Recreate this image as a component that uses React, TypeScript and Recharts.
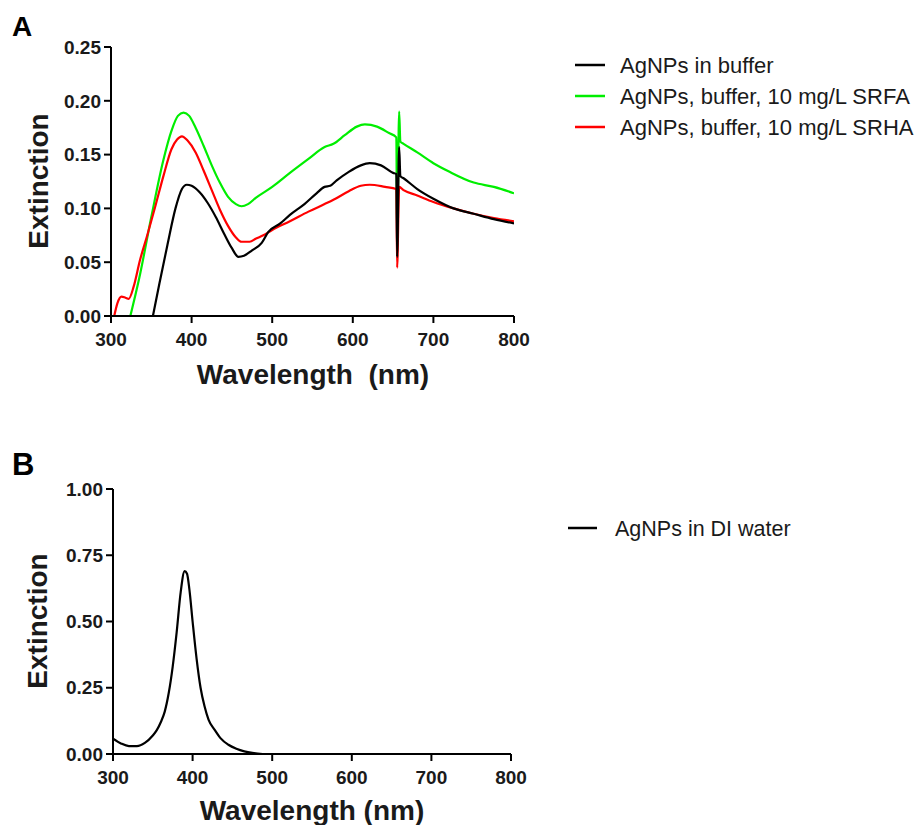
import { Line, LineChart, XAxis, YAxis } from "recharts";

// Panel A: extinction spectra
const bufferNm = [352, 360, 370, 380, 388, 394, 400, 410, 420, 430, 440, 450, 458, 465, 475, 487, 495, 510, 522, 540, 555, 565, 572, 580, 595, 610, 621, 635, 650, 654, 655, 657.5, 659, 663, 680, 700, 725, 750, 775, 800];
const bufferExt = [0, 0.03, 0.066, 0.1, 0.118, 0.122, 0.121, 0.115, 0.105, 0.092, 0.077, 0.063, 0.055, 0.056, 0.061, 0.068, 0.078, 0.086, 0.094, 0.104, 0.114, 0.12, 0.121, 0.126, 0.134, 0.14, 0.142, 0.14, 0.133, 0.132, 0.055, 0.157, 0.13, 0.128, 0.118, 0.109, 0.1, 0.095, 0.09, 0.086];

const srfaNm = [324, 335, 350, 365, 375, 383, 390, 397, 405, 415, 425, 435, 445, 455, 462, 470, 480, 500, 522, 545, 565, 576, 590, 605, 615, 630, 645, 654, 655, 657.5, 659, 663, 680, 700, 720, 750, 775, 800];
const srfaExt = [0, 0.035, 0.092, 0.145, 0.172, 0.186, 0.189, 0.186, 0.175, 0.158, 0.14, 0.124, 0.111, 0.104, 0.102, 0.104, 0.11, 0.12, 0.133, 0.146, 0.157, 0.16, 0.168, 0.176, 0.178, 0.176, 0.17, 0.166, 0.07, 0.19, 0.162, 0.16, 0.152, 0.142, 0.134, 0.124, 0.12, 0.114];

const srhaNm = [304, 308, 313, 318, 322, 328, 336, 345, 355, 365, 375, 382, 388, 395, 405, 415, 425, 435, 445, 455, 462, 472, 480, 489, 500, 522, 545, 565, 576, 595, 610, 621, 640, 654, 655, 657.5, 663, 680, 700, 725, 750, 775, 800];
const srhaExt = [0, 0.012, 0.018, 0.017, 0.016, 0.027, 0.052, 0.075, 0.102, 0.13, 0.155, 0.164, 0.167, 0.163, 0.152, 0.135, 0.117, 0.099, 0.084, 0.073, 0.069, 0.069, 0.072, 0.075, 0.08, 0.088, 0.097, 0.104, 0.108, 0.116, 0.121, 0.122, 0.12, 0.118, 0.045, 0.12, 0.117, 0.112, 0.106, 0.1, 0.095, 0.091, 0.088];

// Panel B
const waterNm = [300, 310, 320, 330, 340, 350, 355, 360, 365, 370, 375, 380, 385, 390, 393, 396, 400, 405, 410, 415, 420, 428, 435, 445, 455, 465, 475, 488];
const waterExt = [0.058, 0.04, 0.03, 0.03, 0.042, 0.07, 0.09, 0.12, 0.16, 0.23, 0.33, 0.46, 0.61, 0.69, 0.68, 0.62, 0.5, 0.36, 0.25, 0.18, 0.13, 0.09, 0.06, 0.035, 0.02, 0.01, 0.004, 0];

const nmTicks = [300, 400, 500, 600, 700, 800];
const extTicksA = [0, 0.05, 0.1, 0.15, 0.2, 0.25];
const extTicksB = [0, 0.25, 0.5, 0.75, 1];

const legendA = ["AgNPs in buffer", "AgNPs, buffer, 10 mg/L SRFA", "AgNPs, buffer, 10 mg/L SRHA"];
const legendB = ["AgNPs in DI water"];

const FONT = "'Liberation Sans', Arial, sans-serif";
const BLACK = "#000000";
const GREEN = "#00ee00";
const RED = "#ff0000";

const toPoints = (xs: number[], ys: number[]) => xs.map((x, i) => ({ nm: x, ext: ys[i] }));

const tickStyle = { fill: "#1a1a1a", fontSize: 19, fontWeight: 700, fontFamily: FONT };
const axisStroke = { stroke: "#000", strokeWidth: 2 };

function Panel({
  top,
  height,
  margin,
  yWidth,
  xHeight,
  yTicks,
  children,
}: {
  top: number;
  height: number;
  margin: { top: number; right: number; bottom: number; left: number };
  yWidth: number;
  xHeight: number;
  yTicks: number[];
  children: React.ReactNode;
}) {
  return (
    <div style={{ position: "absolute", left: 0, top }}>
      <LineChart width={540} height={height} margin={margin}>
        <XAxis
          dataKey="nm"
          type="number"
          domain={[300, 800]}
          ticks={nmTicks}
          allowDataOverflow
          height={xHeight}
          tick={tickStyle}
          tickSize={7}
          tickMargin={10}
          axisLine={axisStroke}
          tickLine={axisStroke}
        />
        <YAxis
          dataKey="ext"
          type="number"
          domain={[yTicks[0], yTicks[yTicks.length - 1]]}
          ticks={yTicks}
          allowDataOverflow
          width={yWidth}
          tick={tickStyle}
          tickSize={7}
          tickMargin={3}
          tickFormatter={(v: number) => v.toFixed(2)}
          axisLine={axisStroke}
          tickLine={axisStroke}
        />
        {children}
      </LineChart>
    </div>
  );
}

export default function App() {
  return (
    <div style={{ position: "absolute", left: 0, top: 0, width: 920, height: 825, background: "#fff" }}>
      <Panel top={0} height={400} margin={{ top: 47, right: 26, bottom: 24, left: 0 }} yWidth={111} xHeight={60} yTicks={extTicksA}>
        <Line data={toPoints(srfaNm, srfaExt)} dataKey="ext" stroke={GREEN} strokeWidth={2.2} dot={false} type="monotone" isAnimationActive={false} />
        <Line data={toPoints(srhaNm, srhaExt)} dataKey="ext" stroke={RED} strokeWidth={2.2} dot={false} type="monotone" isAnimationActive={false} />
        <Line data={toPoints(bufferNm, bufferExt)} dataKey="ext" stroke={BLACK} strokeWidth={2.2} dot={false} type="monotone" isAnimationActive={false} />
      </Panel>
      <Panel top={420} height={405} margin={{ top: 69, right: 29, bottom: 21, left: 0 }} yWidth={113} xHeight={50} yTicks={extTicksB}>
        <Line data={toPoints(waterNm, waterExt)} dataKey="ext" stroke={BLACK} strokeWidth={2.2} dot={false} type="monotone" isAnimationActive={false} />
      </Panel>

      <svg width={920} height={825} style={{ position: "absolute", left: 0, top: 0, pointerEvents: "none" }} fontFamily={FONT}>
        <text x={12} y={36} fontSize={28} fontWeight={700} fill="#000">A</text>
        <text x={12} y={475} fontSize={31} fontWeight={700} fill="#000">B</text>

        <text x={313} y={384} fontSize={28} fontWeight={700} textAnchor="middle" fill="#1a1a1a" style={{ whiteSpace: "pre" }}>
          {"Wavelength  (nm)"}
        </text>
        <text transform="translate(48,181) rotate(-90)" fontSize={28} fontWeight={700} textAnchor="middle" fill="#1a1a1a">
          Extinction
        </text>
        <text x={312} y={820} fontSize={28} fontWeight={700} textAnchor="middle" fill="#1a1a1a">
          Wavelength (nm)
        </text>
        <text transform="translate(47,621) rotate(-90)" fontSize={28} fontWeight={700} textAnchor="middle" fill="#1a1a1a">
          Extinction
        </text>

        {legendA.map((label, i) => {
          const y = 65 + i * 31;
          const color = [BLACK, GREEN, RED][i];
          return (
            <g key={label}>
              <line x1={575} x2={605} y1={y} y2={y} stroke={color} strokeWidth={2.5} />
              <text x={620} y={y + 8} fontSize={22} fill="#1a1a1a">{label}</text>
            </g>
          );
        })}
        {legendB.map((label) => (
          <g key={label}>
            <line x1={568} x2={597} y1={528} y2={528} stroke={BLACK} strokeWidth={2.5} />
            <text x={615} y={536} fontSize={21.5} fill="#1a1a1a">{label}</text>
          </g>
        ))}
      </svg>
    </div>
  );
}
